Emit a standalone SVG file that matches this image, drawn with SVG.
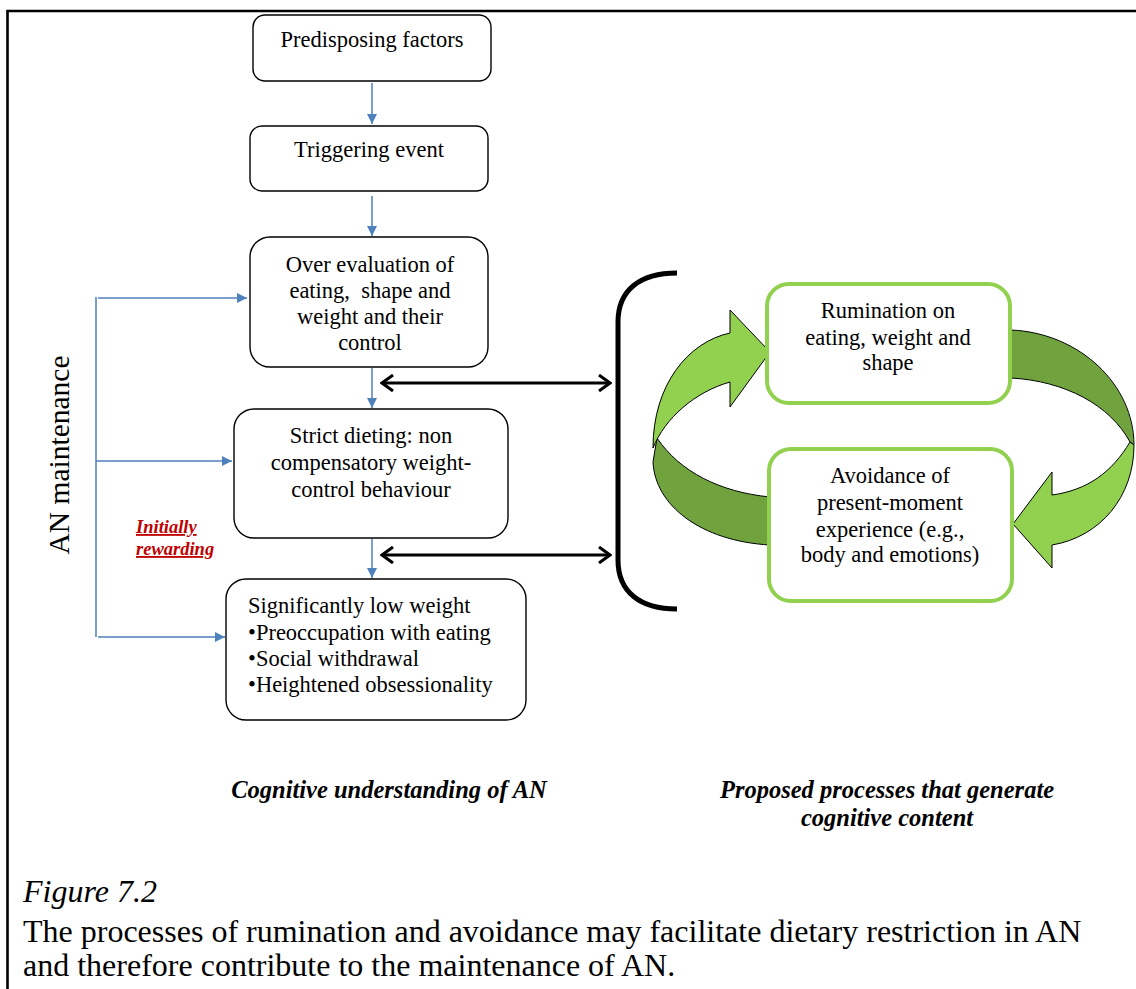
<svg xmlns="http://www.w3.org/2000/svg" width="1136" height="989" viewBox="0 0 1136 989">
  <style>
    .box { fill: #ffffff; stroke: #000000; stroke-width: 1.4; }
    .gbox { fill: #ffffff; stroke: #92D050; stroke-width: 4; }
    .t { font-family: "Liberation Serif", "Times New Roman", serif; font-size: 22.5px; fill: #000000; }
    .c { text-anchor: middle; }
    .blue { fill: none; stroke: #4F81BD; stroke-width: 1.5; }
    .dbl { fill: none; stroke: #000000; stroke-width: 3; }
    .light { fill: #92D050; stroke: #000000; stroke-width: 1; stroke-linejoin: round; }
    .dark { fill: #70A33E; stroke: #000000; stroke-width: 1; stroke-linejoin: round; }
    .hdr { font-family: "Liberation Serif", "Times New Roman", serif; font-size: 24.5px; font-weight: bold; font-style: italic; fill: #000000; }
    .cap { font-family: "Liberation Serif", "Times New Roman", serif; font-size: 32px; fill: #000000; }
    .red { font-family: "Liberation Serif", "Times New Roman", serif; font-size: 18.5px; font-weight: bold; font-style: italic; fill: #C00000; text-decoration: underline; }
  </style>
  <defs>
    <marker id="bluehead" viewBox="0 0 10 10" refX="10" refY="5" markerWidth="10" markerHeight="10" markerUnits="userSpaceOnUse" orient="auto">
      <path d="M0,0 L10,5 L0,10 Z" fill="#4F81BD"/>
    </marker>
    <marker id="chevron" viewBox="0 0 14 18" refX="12" refY="9" markerWidth="14" markerHeight="18" markerUnits="userSpaceOnUse" orient="auto-start-reverse">
      <path d="M1,1 L12,9 L1,17" fill="none" stroke="#000000" stroke-width="3"/>
    </marker>
  </defs>

  <rect width="1136" height="989" fill="#ffffff"/>
  <!-- frame (top and left edges only) -->
  <path d="M7.5,989 L7.5,11 L1136,11" fill="none" stroke="#000000" stroke-width="2.6"/>

  <!-- connectors -->
  <g id="connectors">
    <line class="blue" x1="372" y1="83" x2="372" y2="124" marker-end="url(#bluehead)"/>
    <line class="blue" x1="372" y1="196" x2="372" y2="236" marker-end="url(#bluehead)"/>
    <line class="blue" x1="372" y1="368" x2="372" y2="408" marker-end="url(#bluehead)"/>
    <line class="blue" x1="372" y1="539" x2="372" y2="578" marker-end="url(#bluehead)"/>
    <!-- maintenance feedback rail -->
    <line class="blue" x1="96" y1="297" x2="96" y2="637"/>
    <line class="blue" x1="98" y1="298" x2="247" y2="298" marker-end="url(#bluehead)"/>
    <line class="blue" x1="96" y1="461" x2="232" y2="461" marker-end="url(#bluehead)"/>
    <line class="blue" x1="98" y1="637" x2="225" y2="637" marker-end="url(#bluehead)"/>
    <!-- two-way links to the process bracket -->
    <line class="dbl" x1="382" y1="383" x2="610" y2="383" marker-start="url(#chevron)" marker-end="url(#chevron)"/>
    <line class="dbl" x1="382" y1="555" x2="610" y2="555" marker-start="url(#chevron)" marker-end="url(#chevron)"/>
    <!-- bracket -->
    <path d="M677,273 C640,273 618,290 618,322 L618,560 C618,592 640,609 677,609" fill="none" stroke="#000000" stroke-width="5"/>
  </g>

  <!-- cycle ribbon -->
  <g id="cycle">
    <path class="dark" d="M657,438 C680,472 720,492 770,497 L770,545 C700,541 655,505 653,462 Z"/>
    <path class="light" d="M770,352 L730,310 L730,333 C688,342 653,385 653,448 C665,418 695,392 730,382 L730,407 Z"/>
    <path class="dark" d="M1011,330 C1080,333 1134,385 1134,445 L1130,442 C1110,405 1065,381 1011,378 Z"/>
    <path class="light" d="M1130,442 C1112,472 1088,490 1052,495 L1052,472 L1013,524 L1052,568 L1052,545 C1100,537 1134,497 1134,445 Z"/>
  </g>

  <g id="predisposing">
    <rect class="box" x="253" y="15" width="238" height="66" rx="12"/>
    <text class="t c" x="372" y="47">Predisposing factors</text>
  </g>
  <g id="triggering">
    <rect class="box" x="250" y="126" width="238" height="65" rx="12"/>
    <text class="t c" x="369" y="157">Triggering event</text>
  </g>
  <g id="overevaluation">
    <rect class="box" x="250" y="237" width="238" height="130" rx="20"/>
    <text class="t c" x="370" y="272">Over evaluation of</text>
    <text class="t c" x="370" y="298" xml:space="preserve">eating,  shape and</text>
    <text class="t c" x="370" y="324">weight and their</text>
    <text class="t c" x="370" y="350">control</text>
  </g>
  <g id="dieting">
    <rect class="box" x="234" y="409" width="274" height="129" rx="20"/>
    <text class="t c" x="371" y="443">Strict dieting: non</text>
    <text class="t c" x="371" y="470">compensatory weight-</text>
    <text class="t c" x="371" y="497">control behaviour</text>
  </g>
  <g id="lowweight">
    <rect class="box" x="226" y="579" width="300" height="141" rx="20"/>
    <text class="t" x="248" y="613">Significantly low weight</text>
    <text class="t" x="248" y="640">•Preoccupation with eating</text>
    <text class="t" x="248" y="666">•Social withdrawal</text>
    <text class="t" x="248" y="692">•Heightened obsessionality</text>
  </g>

  <g id="rumination">
    <rect class="gbox" x="767" y="284" width="243" height="119" rx="22"/>
    <text class="t c" x="888" y="318">Rumination on</text>
    <text class="t c" x="888" y="345">eating, weight and</text>
    <text class="t c" x="888" y="370">shape</text>
  </g>
  <g id="avoidance">
    <rect class="gbox" x="769" y="449" width="243" height="152" rx="22"/>
    <text class="t c" x="890" y="483">Avoidance of</text>
    <text class="t c" x="890" y="510">present-moment</text>
    <text class="t c" x="890" y="537">experience (e.g.,</text>
    <text class="t c" x="890" y="562">body and emotions)</text>
  </g>

  <g id="maintenance-label">
    <text class="t c" x="0" y="0" style="font-size:29.5px" transform="translate(69,455) rotate(-90)">AN maintenance</text>
  </g>
  <g id="reward-label">
    <text class="red" x="136" y="533">Initially</text>
    <text class="red" x="136" y="555">rewarding</text>
  </g>

  <g id="headings">
    <text class="hdr c" x="389" y="798">Cognitive understanding of AN</text>
    <text class="hdr c" x="887" y="798">Proposed processes that generate</text>
    <text class="hdr c" x="887" y="826">cognitive content</text>
  </g>

  <g id="caption">
    <text class="cap" x="23" y="902" style="font-style:italic">Figure 7.2</text>
    <text class="cap" x="23" y="942">The processes of rumination and avoidance may facilitate dietary restriction in AN</text>
    <text class="cap" x="23" y="976">and therefore contribute to the maintenance of AN.</text>
  </g>
</svg>
